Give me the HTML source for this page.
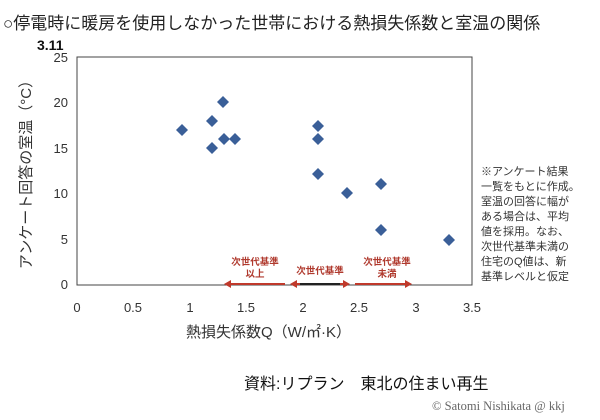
<!DOCTYPE html>
<html><head><meta charset="utf-8"><style>
body{margin:0;width:600px;height:415px;background:#fff;overflow:hidden;font-family:"Liberation Sans","Noto Sans CJK JP",sans-serif;}
</style></head><body>
<svg width="600" height="415" xmlns="http://www.w3.org/2000/svg" font-family="Liberation Sans, Noto Sans CJK JP, sans-serif">
<text x="3" y="29" font-size="17" fill="#222">○停電時に暖房を使用しなかった世帯における熱損失係数と室温の関係</text>
<text x="37" y="50" font-size="14" font-weight="bold" fill="#111">3.11</text>
<rect x="77" y="57" width="395" height="228" fill="none" stroke="#444" stroke-width="1"/>
<g font-size="13" fill="#333" text-anchor="end">
<text x="68" y="62">25</text><text x="68" y="107">20</text><text x="68" y="153">15</text>
<text x="68" y="198">10</text><text x="68" y="244">5</text><text x="68" y="289">0</text>
</g>
<g font-size="13" fill="#333" text-anchor="middle">
<text x="77" y="312">0</text><text x="133" y="312">0.5</text><text x="190" y="312">1</text>
<text x="246" y="312">1.5</text><text x="303" y="312">2</text><text x="359" y="312">2.5</text>
<text x="416" y="312">3</text><text x="472" y="312">3.5</text>
</g>
<text transform="translate(31,171) rotate(-90)" font-size="15" fill="#333" text-anchor="middle">アンケート回答の室温（°C）</text>
<text x="186" y="337" font-size="15" fill="#333">熱損失係数Q（W/㎡·K）</text>
<g fill="#3a5f98">
<path d="M182 124l6 6-6 6-6-6z"/><path d="M212 115l6 6-6 6-6-6z"/><path d="M212 142l6 6-6 6-6-6z"/>
<path d="M223 96l6 6-6 6-6-6z"/><path d="M224 133l6 6-6 6-6-6z"/><path d="M235 133l6 6-6 6-6-6z"/>
<path d="M318 120l6 6-6 6-6-6z"/><path d="M318 133l6 6-6 6-6-6z"/><path d="M318 168l6 6-6 6-6-6z"/>
<path d="M347 187l6 6-6 6-6-6z"/><path d="M381 178l6 6-6 6-6-6z"/><path d="M381 224l6 6-6 6-6-6z"/>
<path d="M449 234l6 6-6 6-6-6z"/>
</g>
<g stroke="#c0392b" stroke-width="2" fill="#c0392b">
<line x1="228" y1="284" x2="285" y2="284"/><path d="M224 284l7-4v8z" stroke="none"/>
<line x1="294" y1="284" x2="346" y2="284"/><path d="M290 284l7-4v8z" stroke="none"/><path d="M350 284l-7-4v8z" stroke="none"/>
<line x1="355" y1="284" x2="408" y2="284"/><path d="M412 284l-7-4v8z" stroke="none"/>
</g>
<line x1="300" y1="284" x2="340" y2="284" stroke="#222" stroke-width="2"/>
<g font-size="9.5" fill="#b03a2e" font-weight="bold" text-anchor="middle">
<text x="255" y="265">次世代基準</text><text x="255" y="277">以上</text>
<text x="320" y="274">次世代基準</text>
<text x="387" y="265">次世代基準</text><text x="387" y="277">未満</text>
</g>
<g font-size="11" fill="#333">
<text x="481" y="175">※アンケート結果</text><text x="481" y="190">一覧をもとに作成。</text>
<text x="481" y="205">室温の回答に幅が</text><text x="481" y="220">ある場合は、平均</text>
<text x="481" y="235">値を採用。なお、</text><text x="481" y="250">次世代基準未満の</text>
<text x="481" y="265">住宅のQ値は、新</text><text x="481" y="280">基準レベルと仮定</text>
</g>
<text x="244" y="389" font-size="16" fill="#111">資料:リプラン　東北の住まい再生</text>
<text x="432" y="410" font-size="12.5" fill="#666" font-family="Liberation Serif, serif">©  Satomi Nishikata @ kkj</text>
</svg>
</body></html>
